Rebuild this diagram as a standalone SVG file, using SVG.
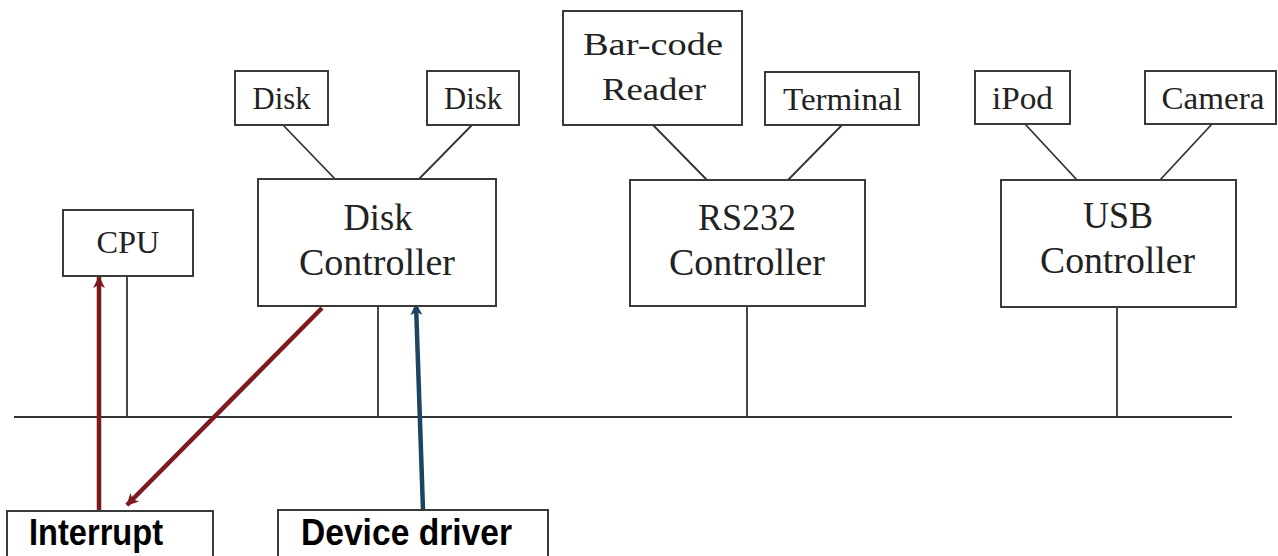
<svg xmlns="http://www.w3.org/2000/svg" width="1278" height="556" viewBox="0 0 1278 556">
  <style>
    .box { fill: #ffffff; stroke: #3a3a3a; stroke-width: 2; }
    .wire { fill: none; stroke: #333333; stroke-width: 1.8; }
    .lbl { font-family: "Liberation Serif", "Times New Roman", serif; font-size: 32px; fill: #222222; text-anchor: middle; }
    .big { font-family: "Liberation Serif", "Times New Roman", serif; font-size: 38px; fill: #222222; text-anchor: middle; }
    .sans { font-family: "Liberation Sans", Arial, sans-serif; font-size: 36px; font-weight: bold; fill: #000000; }
    .red { fill: none; stroke: #7d1a1d; stroke-width: 4.5; }
    .blue { fill: none; stroke: #1d4563; stroke-width: 4.5; }
  </style>
  <defs>
    <marker id="headRed" markerUnits="userSpaceOnUse" markerWidth="14" markerHeight="14" viewBox="0 0 14 14" refX="12" refY="7" orient="auto">
      <path d="M1,1 L13,7 L1,13 L4,7 Z" fill="#7d1a1d"/>
    </marker>
    <marker id="headBlue" markerUnits="userSpaceOnUse" markerWidth="14" markerHeight="14" viewBox="0 0 14 14" refX="12" refY="7" orient="auto">
      <path d="M1,1 L13,7 L1,13 L4,7 Z" fill="#1d4563"/>
    </marker>
  </defs>
  <rect width="1278" height="556" fill="#ffffff"/>

  <!-- system bus and device links -->
  <g id="connectors">
    <line class="wire" x1="14" y1="417" x2="1232" y2="417"/>
    <line class="wire" x1="127" y1="276" x2="127" y2="417"/>
    <line class="wire" x1="378" y1="306" x2="378" y2="417"/>
    <line class="wire" x1="747" y1="306" x2="747" y2="417"/>
    <line class="wire" x1="1117" y1="307" x2="1117" y2="417"/>
    <line class="wire" x1="283" y1="125" x2="336" y2="180"/>
    <line class="wire" x1="472" y1="125" x2="418" y2="180"/>
    <line class="wire" x1="653" y1="125" x2="707" y2="180"/>
    <line class="wire" x1="842" y1="125" x2="788" y2="180"/>
    <line class="wire" x1="1025" y1="124" x2="1077" y2="180"/>
    <line class="wire" x1="1212" y1="124" x2="1160" y2="180"/>
    <!-- interrupt / driver flows -->
    <line class="red" x1="99" y1="511" x2="99" y2="277" marker-end="url(#headRed)"/>
    <line class="red" x1="322" y1="308" x2="127" y2="505" marker-end="url(#headRed)"/>
    <line class="blue" x1="423" y1="510" x2="416" y2="304" marker-end="url(#headBlue)"/>
  </g>

  <g id="cpu">
    <rect class="box" x="63" y="210" width="130" height="66"/>
    <text class="lbl" x="128" y="253" textLength="63" lengthAdjust="spacingAndGlyphs">CPU</text>
  </g>

  <g id="disk1">
    <rect class="box" x="235" y="71" width="93" height="54"/>
    <text class="lbl" x="281.5" y="109" textLength="58" lengthAdjust="spacingAndGlyphs">Disk</text>
  </g>
  <g id="disk2">
    <rect class="box" x="427" y="71" width="92" height="54"/>
    <text class="lbl" x="473" y="109" textLength="58" lengthAdjust="spacingAndGlyphs">Disk</text>
  </g>
  <g id="disk-controller">
    <rect class="box" x="258" y="179" width="238" height="127"/>
    <text class="big" x="378" y="230" textLength="69" lengthAdjust="spacingAndGlyphs">Disk</text>
    <text class="big" x="377" y="275" textLength="156" lengthAdjust="spacingAndGlyphs">Controller</text>
  </g>

  <g id="barcode-reader">
    <rect class="box" x="563" y="11" width="179" height="114"/>
    <text class="lbl" x="653" y="55" textLength="140" lengthAdjust="spacingAndGlyphs">Bar-code</text>
    <text class="lbl" x="654" y="100" textLength="104" lengthAdjust="spacingAndGlyphs">Reader</text>
  </g>
  <g id="terminal">
    <rect class="box" x="765" y="72" width="154" height="53"/>
    <text class="lbl" x="842.5" y="110" textLength="119" lengthAdjust="spacingAndGlyphs">Terminal</text>
  </g>
  <g id="rs232-controller">
    <rect class="box" x="630" y="180" width="235" height="126"/>
    <text class="big" x="747" y="230" textLength="98" lengthAdjust="spacingAndGlyphs">RS232</text>
    <text class="big" x="747" y="275" textLength="156" lengthAdjust="spacingAndGlyphs">Controller</text>
  </g>

  <g id="ipod">
    <rect class="box" x="975" y="71" width="95" height="53"/>
    <text class="lbl" x="1022.5" y="109" textLength="61" lengthAdjust="spacingAndGlyphs">iPod</text>
  </g>
  <g id="camera">
    <rect class="box" x="1145" y="71" width="131" height="53"/>
    <text class="lbl" x="1213" y="109" textLength="103" lengthAdjust="spacingAndGlyphs">Camera</text>
  </g>
  <g id="usb-controller">
    <rect class="box" x="1001" y="180" width="235" height="127"/>
    <text class="big" x="1118" y="228" textLength="70" lengthAdjust="spacingAndGlyphs">USB</text>
    <text class="big" x="1117.5" y="273" textLength="155" lengthAdjust="spacingAndGlyphs">Controller</text>
  </g>

  <g id="interrupt">
    <rect class="box" x="7" y="511" width="206" height="60"/>
    <text class="sans" x="29" y="545" textLength="134" lengthAdjust="spacingAndGlyphs">Interrupt</text>
  </g>
  <g id="device-driver">
    <rect class="box" x="278" y="510" width="270" height="60"/>
    <text class="sans" x="301" y="545" textLength="211" lengthAdjust="spacingAndGlyphs">Device driver</text>
  </g>
</svg>
